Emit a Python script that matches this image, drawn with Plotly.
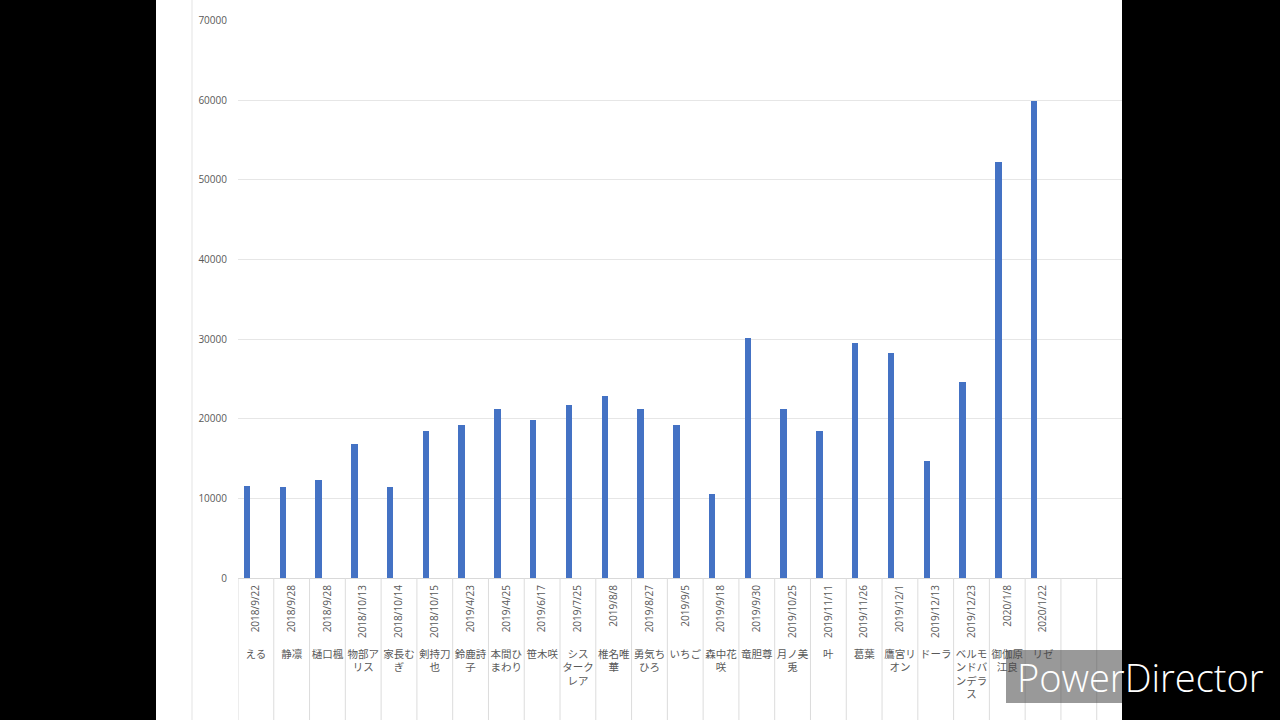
import plotly.graph_objects as go
import numpy as np

dates = ["2018/9/22", "2018/9/28", "2018/9/28", "2018/10/13", "2018/10/14", "2018/10/15",
         "2019/4/23", "2019/4/25", "2019/6/17", "2019/7/25", "2019/8/8", "2019/8/27",
         "2019/9/5", "2019/9/18", "2019/9/30", "2019/10/25", "2019/11/11", "2019/11/26",
         "2019/12/1", "2019/12/13", "2019/12/23", "2020/1/8", "2020/1/22"]
names = ["える", "静凛", "樋口楓", "物部ア<br>リス", "家長む<br>ぎ", "剣持刀<br>也",
         "鈴鹿詩<br>子", "本間ひ<br>まわり", "笹木咲", "シス<br>ターク<br>レア", "椎名唯<br>華",
         "勇気ち<br>ひろ", "いちご", "森中花<br>咲", "竜胆尊", "月ノ美<br>兎", "叶", "葛葉",
         "鷹宮リ<br>オン", "ドーラ", "ベルモ<br>ンドバ<br>ンデラ<br>ス", "御伽原<br>江良", "リゼ"]
values = [11530, 11370, 12330, 16850, 11370, 18430, 19230, 21240, 19860, 21740, 22910,
          21240, 19230, 10490, 30100, 21240, 18430, 29520, 28220, 14720, 24630, 52190, 59930]
y_ticks = [0, 10000, 20000, 30000, 40000, 50000, 60000, 70000]
y_ticktext = [str(v) for v in y_ticks]

idx = np.arange(len(dates))
n_slots = 25  # 23 bars + 2 empty slots at the end

fig = go.Figure()
fig.add_trace(go.Bar(x=idx, y=values, marker_color="#4472C4", marker_line_width=0,
                     width=0.18, offset=-0.34, showlegend=False, hoverinfo="skip"))
# invisible carrier so the name axis (x2) is drawn
fig.add_trace(go.Scatter(x=idx, y=[0] * len(idx), xaxis="x2", yaxis="y", mode="markers",
                         marker=dict(opacity=0, size=1), showlegend=False, hoverinfo="skip"))

PLOT_L, PLOT_R, PLOT_T, W, H = 238, 1122, 20, 1280, 720
plot_w = PLOT_R - PLOT_L
plot_h = H - PLOT_T
y0_frac = (H - 578) / plot_h
xr = [-0.5, -0.5 + plot_w / 35.78]

def px_x(p):
    return (p - PLOT_L) / plot_w

def px_y(p):
    return (H - p) / plot_h

shapes = [
    dict(type="rect", xref="paper", yref="paper", x0=px_x(156), x1=px_x(1122),
         y0=-0.05, y1=1.1, fillcolor="white", line_width=0, layer="below"),
    dict(type="line", xref="paper", yref="paper", x0=px_x(192), x1=px_x(192),
         y0=-0.05, y1=1.1, line=dict(color="#e3e3e3", width=1), layer="below"),
]
for b in np.arange(-0.5, n_slots - 0.5, 1.0):
    if b <= xr[1]:
        shapes.append(dict(type="line", xref="x", yref="paper", x0=b, x1=b,
                           y0=-0.02, y1=y0_frac, line=dict(color="#dcdcdc", width=1)))
# watermark box
shapes.append(dict(type="rect", xref="paper", yref="paper", x0=px_x(1006), x1=px_x(1122),
                   y0=px_y(703), y1=px_y(650), fillcolor="rgba(70,70,70,0.55)",
                   line_width=0, layer="above"))

fig.update_layout(
    width=W, height=H, autosize=False,
    margin=dict(l=PLOT_L, r=W - PLOT_R, t=PLOT_T, b=0, autoexpand=False),
    paper_bgcolor="black", plot_bgcolor="white",
    shapes=shapes,
    bargap=0,
    xaxis=dict(range=xr, tickmode="array", tickvals=idx, ticktext=dates, tickangle=-90,
               showgrid=False, zeroline=False, showline=True, linecolor="#d9d9d9",
               ticks="", tickfont=dict(family="Open Sans", size=10, color="#595959"),
               anchor="y", automargin=False, ticklabelstandoff=2),
    xaxis2=dict(range=xr, overlaying="x", anchor="free", position=px_y(646), side="bottom",
                tickmode="array", tickvals=idx, ticktext=names, tickangle=0,
                showgrid=False, zeroline=False, showline=False, ticks="", automargin=False,
                tickfont=dict(family="Noto Sans CJK JP", size=10.5, color="#595959")),
    yaxis=dict(domain=[y0_frac, 1], range=[0, 70050], tickmode="array", tickvals=y_ticks,
               ticktext=y_ticktext, automargin=False,
               showgrid=True, gridcolor="#e6e6e6", gridwidth=1, zeroline=False,
               ticks="", ticklabelstandoff=10,
               tickfont=dict(family="Open Sans", size=10, color="#595959")),
    annotations=[dict(text="PowerDirector", xref="paper", yref="paper",
                      x=px_x(1266), y=px_y(677), xanchor="right", yanchor="middle",
                      showarrow=False,
                      font=dict(family="Open Sans", size=38, color="white", weight=300))],
)

fig.write_html("out.html", config={"displayModeBar": False},
               post_script="document.body.style.margin='0';")
